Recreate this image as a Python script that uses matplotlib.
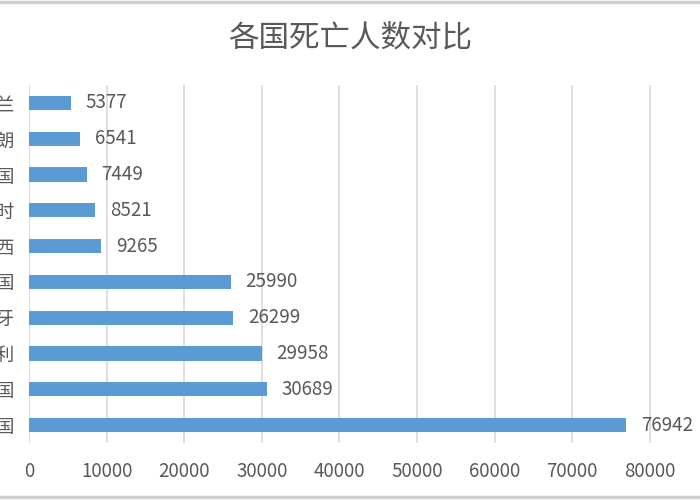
import matplotlib
matplotlib.use('Agg')
import matplotlib.pyplot as plt
from matplotlib.lines import Line2D

plt.rcParams['font.family'] = ['Noto Sans CJK SC', 'DejaVu Sans']

# 数据
countries = ['美国', '英国', '意大利', '西班牙', '法国', '巴西', '比利时', '德国', '伊朗', '荷兰']
deaths = [76942, 30689, 29958, 26299, 25990, 9265, 8521, 7449, 6541, 5377]
x_ticks = list(range(0, 90001, 10000))

text_color = '#595959'
bar_color = '#5B9BD5'
grid_color = '#D9D9D9'

fig = plt.figure(figsize=(7, 5), dpi=100)
ax = fig.add_axes([29 / 700, 1 - 443 / 500, 698.5 / 700, 358 / 500])

bars = ax.barh(countries, deaths, height=0.4, color=bar_color, zorder=3)

ax.set_xlim(0, 90000)
ax.set_ylim(-0.5, len(countries) - 0.5)
ax.set_xticks(x_ticks)
ax.set_xticklabels([str(v) for v in x_ticks])
ax.grid(axis='x', color=grid_color, linewidth=1.2, zorder=0)
for s in ax.spines.values():
    s.set_visible(False)
ax.tick_params(axis='both', length=0, colors=text_color)
ax.tick_params(axis='x', labelsize=13.5, pad=13)
ax.tick_params(axis='y', labelsize=13.5, pad=10)

# 数值标签
for b, v in zip(bars, deaths):
    ax.text(b.get_width() + 1900, b.get_y() + b.get_height() / 2, str(v),
            va='center', ha='left', fontsize=13.5, color=text_color)

fig.text(0.5, 1 - 38 / 500, '各国死亡人数对比', ha='center', va='center',
         fontsize=22, color=text_color)

# 外框线
fig.add_artist(Line2D([0, 1], [0.997, 0.997], transform=fig.transFigure,
                      color='#cfcfcf', linewidth=2.5))
fig.add_artist(Line2D([0, 1], [0.006, 0.006], transform=fig.transFigure,
                      color='#cfcfcf', linewidth=2.5))

fig.savefig('out.png', dpi=100)
